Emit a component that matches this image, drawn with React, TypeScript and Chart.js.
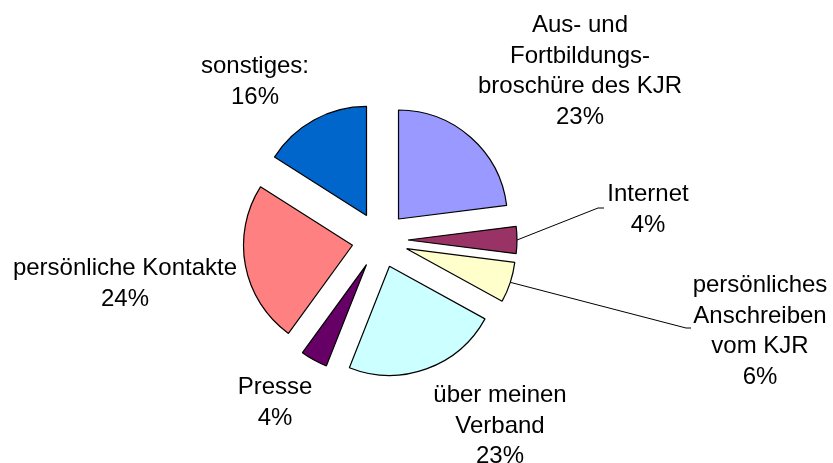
import React, { useEffect, useRef } from "react";
import { Chart, registerables } from "chart.js";

Chart.register(...registerables);

const categories: string[][] = [
  ["Aus- und", "Fortbildungs-", "broschüre des KJR"],
  ["Internet"],
  ["persönliches", "Anschreiben", "vom KJR"],
  ["über meinen", "Verband"],
  ["Presse"],
  ["persönliche Kontakte"],
  ["sonstiges:"],
];
const values: number[] = [23, 4, 6, 23, 4, 24, 16];
const colors: string[] = ["#9999FF", "#993366", "#FFFFCC", "#CCFFFF", "#660066", "#FF8080", "#0066CC"];

// label block anchor relative to pie centre: text centre x, first baseline y
const labelDx: number[] = [200, 268, 380, 120, -105, -255, -125];
const labelDy: number[] = [-208, -39, 52, 162, 154, 35, -167];
// leader line elbows (relative to pie centre), null = no leader
const leaderElbow: (number[] | null)[] = [null, [218, -32, 224], [306, 88, 311], null, null, null, null];

const FONT = '24px "Liberation Sans", Arial, sans-serif';
const LINE_H = 30.5;
const EXPLODE = 28;

// explode every slice by the same distance along its mid angle
const explodePlugin = {
  id: "explode",
  afterDatasetUpdate(chart: any, args: any) {
    const meta = args.meta;
    meta.data.forEach((arc: any) => {
      const mid = (arc.startAngle + arc.endAngle) / 2;
      arc.x += Math.cos(mid) * EXPLODE;
      arc.y += Math.sin(mid) * EXPLODE;
    });
  },
};

const labelPlugin = {
  id: "pieLabels",
  afterDatasetsDraw(chart: any) {
    const meta = chart.getDatasetMeta(0);
    const ctx = chart.ctx;
    const ca = chart.chartArea;
    const cx = (ca.left + ca.right) / 2;
    const cy = (ca.top + ca.bottom) / 2;
    ctx.save();
    ctx.font = FONT;
    ctx.fillStyle = "#000";
    ctx.textAlign = "center";
    ctx.textBaseline = "alphabetic";
    meta.data.forEach((arc: any, i: number) => {
      const mid = (arc.startAngle + arc.endAngle) / 2;
      const lines = [...categories[i], `${values[i]}%`];
      const lx = cx + labelDx[i];
      let ly = cy + labelDy[i];
      lines.forEach((t) => {
        ctx.fillText(t, lx, ly);
        ly += LINE_H;
      });
      const el = leaderElbow[i];
      if (el) {
        const sx = arc.x + Math.cos(mid) * arc.outerRadius;
        const sy = arc.y + Math.sin(mid) * arc.outerRadius;
        ctx.beginPath();
        ctx.strokeStyle = "#000";
        ctx.lineWidth = 1;
        ctx.moveTo(sx, sy);
        ctx.lineTo(cx + el[0], cy + el[1]);
        ctx.lineTo(cx + el[2], cy + el[1]);
        ctx.stroke();
      }
    });
    ctx.restore();
  },
};

export default function App() {
  const ref = useRef<HTMLCanvasElement | null>(null);
  useEffect(() => {
    if (!ref.current) return;
    const chart = new Chart(ref.current, {
      type: "pie",
      data: {
        labels: categories.map((c) => c.join(" ")),
        datasets: [
          {
            data: values,
            backgroundColor: colors,
            borderColor: "#000",
            borderWidth: 1.2,
            offset: 0,
            hoverOffset: 0,
          },
        ],
      },
      options: {
        animation: false,
        responsive: true,
        maintainAspectRatio: false,
        radius: 109,
        layout: { padding: { left: 0, right: 73, top: 17, bottom: 0 } },
        plugins: { legend: { display: false }, tooltip: { enabled: false } },
        events: [],
      } as any,
      plugins: [explodePlugin, labelPlugin],
    });
    return () => chart.destroy();
  }, []);
  return (
    <div style={{ position: "absolute", left: 0, top: 0, width: 833, height: 463, background: "#fff" }}>
      <canvas ref={ref} />
    </div>
  );
}
